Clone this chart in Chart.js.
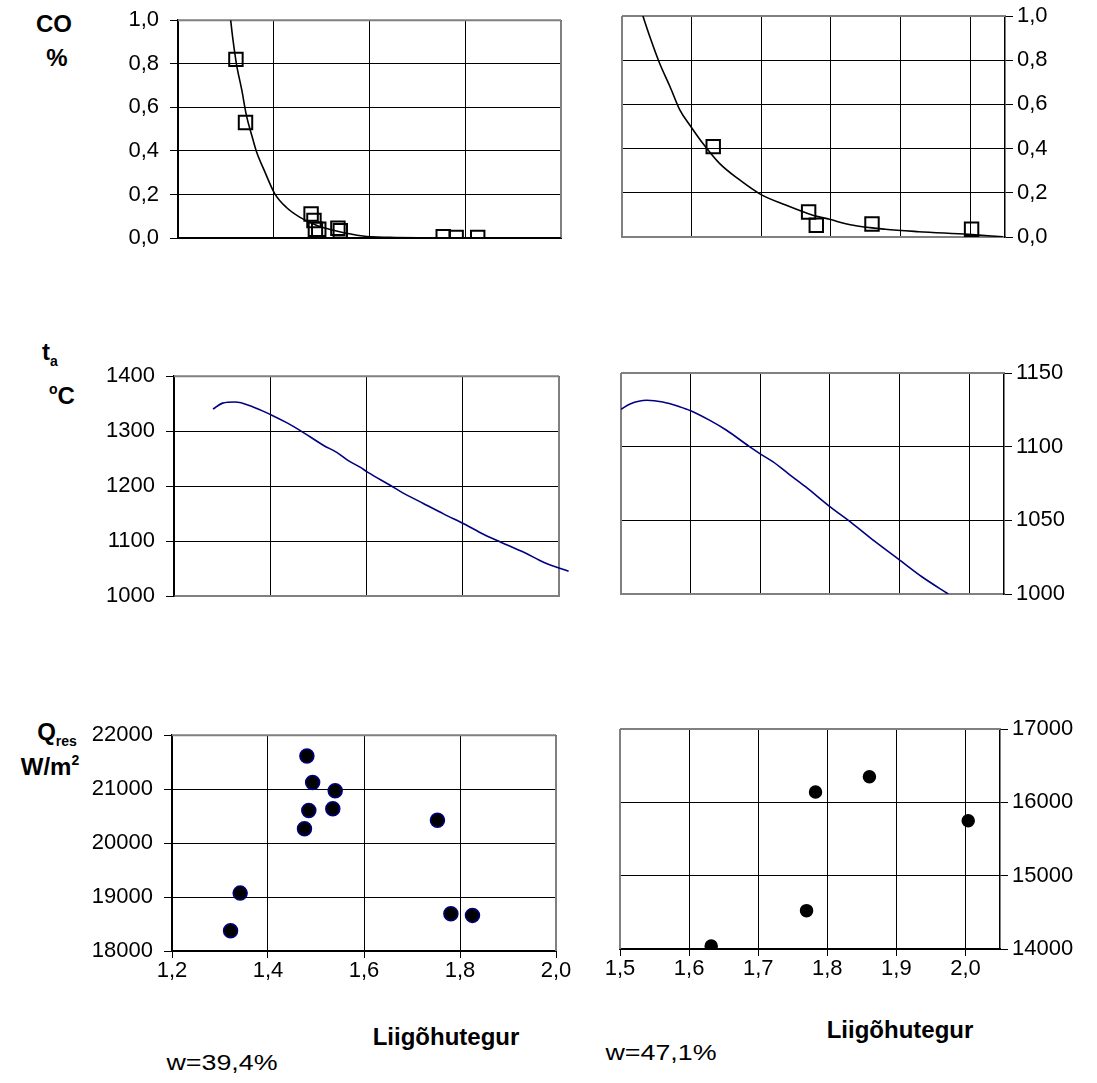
<!DOCTYPE html>
<html>
<head>
<meta charset="utf-8">
<script src="https://cdn.jsdelivr.net/npm/chart.js@4.4.1/dist/chart.umd.min.js"></script>
<style>
  body { margin: 0; background: #fff; }
  #wrap { position: relative; width: 1097px; height: 1083px; overflow: hidden; font-family: 'Liberation Sans', Arial, sans-serif; color: #000; }
  .lbl { position: absolute; transform: translate(-50%, -50%); line-height: 1; white-space: nowrap; }
  .b { font-weight: bold; font-size: 24px; }
  .n { font-size: 22px; transform: translate(-50%, -50%) scaleX(1.22); }
  .sub { font-size: 14px; position: relative; top: 6px; }
  .sup { font-size: 14px; position: relative; top: -10px; }
</style>
</head>
<body>
<div id="wrap">
  <div class="lbl b" style="left:54px;top:24px">CO</div>
  <div class="lbl b" style="left:57px;top:58px">%</div>
  <div class="lbl b" style="left:50px;top:352px">t<span class="sub">a</span></div>
  <div class="lbl b" style="left:62px;top:396px"><span class="sup">o</span>C</div>
  <div class="lbl b" style="left:57px;top:732px">Q<span class="sub">res</span></div>
  <div class="lbl b" style="left:50px;top:767px">W/m<span class="sup">2</span></div>
  <div class="lbl n" style="left:222px;top:1063px">w=39,4%</div>
  <div class="lbl b" style="left:446px;top:1037px">Liigõhutegur</div>
  <div class="lbl n" style="left:661px;top:1053px">w=47,1%</div>
  <div class="lbl b" style="left:900px;top:1030px">Liigõhutegur</div>
</div>
<script>
// ---- data ----
// CO %, w=39,4%
const coL_x = [1.321, 1.341, 1.478, 1.484, 1.487, 1.494, 1.534, 1.539, 1.754, 1.781, 1.826]
const coL_y = [0.82, 0.53, 0.11, 0.08, 0.04, 0.04, 0.045, 0.033, 0.006, 0.003, 0.003]
const coFitL_x = [1.31, 1.315, 1.322, 1.333, 1.343, 1.354, 1.364, 1.381, 1.402, 1.426, 1.454, 1.489, 1.531, 1.586, 1.642, 1.725, 1.85, 2.0]
const coFitL_y = [1.0, 0.907, 0.80, 0.682, 0.562, 0.472, 0.396, 0.306, 0.204, 0.141, 0.096, 0.059, 0.032, 0.009, 0.003, 0.001, 0.0, 0.0]
// CO %, w=47,1%
const coR_x = [1.631, 1.768, 1.779, 1.859, 2.002]
const coR_y = [0.409, 0.113, 0.053, 0.059, 0.035]
const coFitR_x = [1.530, 1.540, 1.554, 1.569, 1.583, 1.599, 1.616, 1.640, 1.669, 1.699, 1.735, 1.773, 1.798, 1.830, 1.878, 1.926, 1.998, 2.047]
const coFitR_y = [1.0, 0.906, 0.786, 0.680, 0.575, 0.499, 0.424, 0.333, 0.258, 0.193, 0.145, 0.100, 0.080, 0.054, 0.035, 0.024, 0.012, 0.001]
// t_a
const taL_x = [1.281, 1.301, 1.327, 1.362, 1.401, 1.435, 1.4625, 1.511, 1.539, 1.563, 1.5875, 1.603, 1.65, 1.671, 1.719, 1.761, 1.803, 1.844, 1.879, 1.928, 1.969, 2.020]
const taL_y = [1340, 1351, 1353, 1345, 1330, 1315, 1301, 1274, 1261, 1246, 1234, 1225, 1201, 1190, 1168, 1149, 1131, 1112, 1098, 1079, 1061, 1045]
const taR_x = [1.5, 1.513, 1.537, 1.560, 1.584, 1.600, 1.627, 1.651, 1.684, 1.701, 1.718, 1.741, 1.765, 1.798, 1.832, 1.865, 1.898, 1.932, 1.970]
const taR_y = [1125.4, 1129, 1131.5, 1130.3, 1127.1, 1124.4, 1118, 1111.3, 1100.2, 1094.8, 1089.8, 1081.4, 1072.8, 1060, 1048, 1035.5, 1023.8, 1011.7, 1000]
// Q_res
const qL_x = [1.481, 1.493, 1.540, 1.485, 1.535, 1.476, 1.753, 1.342, 1.322, 1.781, 1.826]
const qL_y = [21613, 21122, 20970, 20606, 20636, 20267, 20424, 19073, 18376, 18691, 18660]
const qR_x = [1.632, 1.770, 1.783, 1.861, 2.004]
const qR_y = [14041, 14523, 16141, 16350, 15750]

// tick labels
const xTicksL = [1.2, 1.4, 1.6, 1.8, 2.0]
const xTicksR = [1.5, 1.6, 1.7, 1.8, 1.9, 2.0]
const yTicksCO = [0, 0.2, 0.4, 0.6, 0.8, 1.0]
const yTicksTaL = [1000, 1100, 1200, 1300, 1400]
const yTicksTaR = [1000, 1050, 1100, 1150]
const yTicksQL = [18000, 19000, 20000, 21000, 22000]
const yTicksQR = [14000, 15000, 16000, 17000]

const pts = (xs, ys) => xs.map((x, i) => ({ x: x, y: ys[i] }))
const comma = v => v.toFixed(1).replace('.', ',')
const plain = v => String(v)
const FONT = { family: "'Liberation Sans', Arial, sans-serif", size: 22 }

/* ===============================
   gray frame of the plot area
================================ */
const frame = {
  id: 'frame',
  beforeDatasetsDraw(chart, args, opts) {
    const a = chart.chartArea
    const ctx = chart.ctx
    ctx.save()
    ctx.lineWidth = 2
    ctx.strokeStyle = '#808080'
    ctx.beginPath()
    ctx.moveTo(a.left, a.top)
    ctx.lineTo(a.right, a.top)
    if (opts.side === 'left') {
      ctx.moveTo(a.right, a.top)
      ctx.lineTo(a.right, a.bottom)
    } else {
      ctx.moveTo(a.left, a.top)
      ctx.lineTo(a.left, a.bottom)
    }
    ctx.stroke()
    ctx.restore()
  }
}

function squares(data) {
  return {
    data: data, showLine: false, pointStyle: 'rect', pointRadius: 9.5,
    pointBorderColor: '#000', pointBorderWidth: 2, pointBackgroundColor: 'rgba(0,0,0,0)'
  }
}
function dots(data, radius, edge) {
  return {
    data: data, showLine: false, pointStyle: 'circle', pointRadius: radius,
    pointBorderColor: edge, pointBorderWidth: 1.5, pointBackgroundColor: '#000'
  }
}
function curve(data, color, clip) {
  const d = {
    data: data, showLine: true, pointRadius: 0, borderColor: color, borderWidth: 1.6,
    cubicInterpolationMode: 'monotone', fill: false
  }
  if (clip !== undefined) d.clip = clip
  return d
}

/* ===============================
   one panel = one canvas
================================ */
function panel(box, side, xr, yr, datasets, opt) {
  const AX = 110, PAD = 25, TOP = 20, BOT = 30
  const xh = opt.showX ? 45 : 0
  const left = side === 'left' ? box.l - AX : box.l - PAD
  const w = AX + PAD + (box.r - box.l)
  const h = TOP + (box.b - box.t) + xh + BOT
  const cv = document.createElement('canvas')
  cv.width = w
  cv.height = h
  cv.style.cssText = `position:absolute;left:${left}px;top:${box.t - TOP}px;width:${w}px;height:${h}px`
  document.getElementById('wrap').appendChild(cv)

  new Chart(cv, {
    type: 'scatter',
    data: { datasets: datasets },
    options: {
      responsive: false,
      animation: false,
      events: [],
      layout: {
        autoPadding: false,
        padding: side === 'left'
          ? { left: 0, right: PAD, top: TOP, bottom: BOT }
          : { left: PAD, right: 0, top: TOP, bottom: BOT }
      },
      plugins: { legend: { display: false }, tooltip: { enabled: false }, frame: { side: side } },
      scales: {
        x: {
          type: 'linear', position: 'bottom', min: xr.min, max: xr.max,
          afterBuildTicks: s => { s.ticks = xr.ticks.map(v => ({ value: v })) },
          afterFit: s => { s.height = xh },
          grid: { color: '#000', lineWidth: 1, drawTicks: opt.showX, tickLength: 7, tickColor: '#000' },
          border: { color: opt.xLine, width: 2 },
          ticks: { display: opt.showX, font: FONT, color: '#000', padding: 0, maxRotation: 0, autoSkip: false, callback: v => comma(v) }
        },
        y: {
          type: 'linear', position: side, min: yr.min, max: yr.max,
          afterBuildTicks: s => { s.ticks = yr.ticks.map(v => ({ value: v })) },
          afterFit: s => { s.width = AX },
          grid: { color: '#000', lineWidth: 1, tickLength: 8, tickColor: '#000' },
          border: { color: '#000', width: 1.5 },
          ticks: { font: FONT, color: '#000', padding: side === 'left' ? 11 : 4, autoSkip: false, callback: v => yr.fmt(v) }
        }
      }
    },
    plugins: [frame]
  })
}

const NAVY = '#000080'

// CO
panel({ l: 178, t: 16, r: 561, b: 238 }, 'left',
  { min: 1.2, max: 2.0, ticks: xTicksL },
  { min: 0, max: 1, ticks: yTicksCO, fmt: comma },
  [squares(pts(coL_x, coL_y)), curve(pts(coFitL_x, coFitL_y), '#000')],
  { showX: false, xLine: '#000' })
panel({ l: 622, t: 16, r: 1005, b: 237 }, 'right',
  { min: 1.5, max: 2.05, ticks: xTicksR },
  { min: 0, max: 1, ticks: yTicksCO, fmt: comma },
  [squares(pts(coR_x, coR_y)), curve(pts(coFitR_x, coFitR_y), '#000')],
  { showX: false, xLine: '#808080' })

// t_a
panel({ l: 174, t: 372, r: 559, b: 596 }, 'left',
  { min: 1.2, max: 2.0, ticks: xTicksL },
  { min: 1000, max: 1400, ticks: yTicksTaL, fmt: plain },
  [curve(pts(taL_x, taL_y), NAVY, false)],
  { showX: false, xLine: '#808080' })
panel({ l: 621, t: 373, r: 1004, b: 594 }, 'right',
  { min: 1.5, max: 2.05, ticks: xTicksR },
  { min: 1000, max: 1150, ticks: yTicksTaR, fmt: plain },
  [curve(pts(taR_x, taR_y), NAVY)],
  { showX: false, xLine: '#808080' })

// Q_res
panel({ l: 172, t: 731, r: 556, b: 951 }, 'left',
  { min: 1.2, max: 2.0, ticks: xTicksL },
  { min: 18000, max: 22000, ticks: yTicksQL, fmt: plain },
  [dots(pts(qL_x, qL_y), 7, NAVY)],
  { showX: true, xLine: '#000' })
panel({ l: 620, t: 729, r: 1000, b: 949 }, 'right',
  { min: 1.5, max: 2.05, ticks: xTicksR },
  { min: 14000, max: 17000, ticks: yTicksQR, fmt: plain },
  [dots(pts(qR_x, qR_y), 6, '#000')],
  { showX: true, xLine: '#000' })
</script>
</body>
</html>
